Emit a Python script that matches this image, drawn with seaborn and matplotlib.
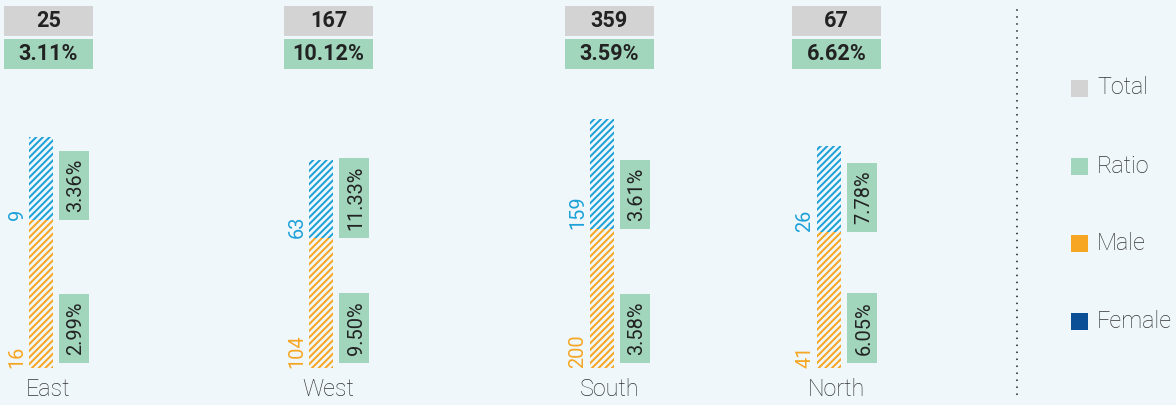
import matplotlib
matplotlib.use("Agg")
import matplotlib.pyplot as plt
import matplotlib.transforms as mtransforms
from matplotlib.patches import Rectangle
from matplotlib.lines import Line2D
import seaborn as sns

# ---- data -------------------------------------------------------------
regions = ["East", "West", "South", "North"]
male = [16, 104, 200, 41]
female = [9, 63, 159, 26]
total = [25, 167, 359, 67]
total_ratio = ["3.11%", "10.12%", "3.59%", "6.62%"]
male_ratio = ["2.99%", "9.50%", "3.58%", "6.05%"]
female_ratio = ["3.36%", "11.33%", "3.61%", "7.78%"]
legend_labels = ["Total", "Ratio", "Male", "Female"]

# ---- style ------------------------------------------------------------
BG = "#F0F7FA"
GREY = "#D3D3D3"
GREEN = "#A1D5BC"
ORANGE = "#F6A623"
BLUE = "#1DA1D8"
NAVY = "#0B4F96"
INK = "#222222"
TEXT = "#333333"

W, H, DPI = 1176, 405, 120

sns.set_theme(style="white", rc={"axes.facecolor": BG, "figure.facecolor": BG})
plt.rcParams["font.family"] = ["Roboto", "DejaVu Sans"]
plt.rcParams["hatch.linewidth"] = 1.2

fig = plt.figure(figsize=(W / DPI, H / DPI), dpi=DPI)
fig.patch.set_facecolor(BG)


def fx(px):
    return px / W


def fy(py):
    # py is measured downward from the top edge of the figure
    return 1 - py / H


# panel layout (pixels)
panel_left = [4, 284, 565, 792]
panel_w = 89
bar_px = [231, 208, 249, 222]      # drawn height of each stacked bar
base_py, top_py = 368, 100
bar_center, bar_width = 0.416, 0.27  # fraction of panel width
count_x = 0.124                      # count labels, fraction of panel width
ratio_x = 0.787                      # ratio tags, fraction of panel width
TAG_W, TAG_PAD = 30, 8               # ratio tag width / end padding (px)

pending_tags = []  # (text artist, panel axes) -> boxes added after layout

for i, region in enumerate(regions):
    left = panel_left[i]
    ax = fig.add_axes([fx(left), fy(base_py), panel_w / W, (base_py - top_py) / H])

    sns.barplot(x=[region], y=[male[i]], width=bar_width, color=ORANGE,
                saturation=1, errorbar=None, ax=ax)
    sns.barplot(x=[region], y=[female[i]], width=bar_width, color=BLUE,
                saturation=1, errorbar=None, ax=ax)
    m_bar, f_bar = ax.patches[0], ax.patches[1]
    f_bar.set_y(male[i])
    for bar, col in ((m_bar, ORANGE), (f_bar, BLUE)):
        bar.set_facecolor("none")
        bar.set_edgecolor(col)
        bar.set_linewidth(0)
        bar.set_hatch("//////")

    ax.set_xlim(-bar_center, 1 - bar_center)
    ax.set_ylim(0, total[i] * (base_py - top_py) / bar_px[i])
    ax.set_axis_off()

    blend = mtransforms.blended_transform_factory(ax.transAxes, ax.transData)

    # counts beside each segment
    ax.text(count_x, 0, str(male[i]), transform=blend, rotation=90,
            rotation_mode="anchor", ha="left", va="center_baseline",
            fontsize=12, color=ORANGE)
    ax.text(count_x, male[i], str(female[i]), transform=blend, rotation=90,
            rotation_mode="anchor", ha="left", va="center_baseline",
            fontsize=12, color=BLUE)

    # ratio tags: one at the foot of the bar, one at the top of the male segment
    lower = mtransforms.offset_copy(blend, fig=fig, x=0,
                                    y=(5 + TAG_PAD) * 72 / DPI, units="points")
    upper = mtransforms.offset_copy(blend, fig=fig, x=0,
                                    y=TAG_PAD * 72 / DPI, units="points")
    t1 = ax.text(ratio_x, 0, male_ratio[i], transform=lower, rotation=90,
                 rotation_mode="anchor", ha="left", va="center_baseline",
                 fontsize=12, color=INK, zorder=5)
    t2 = ax.text(ratio_x, male[i], female_ratio[i], transform=upper, rotation=90,
                 rotation_mode="anchor", ha="left", va="center_baseline",
                 fontsize=12, color=INK, zorder=5)
    pending_tags.append((t1, ax))
    pending_tags.append((t2, ax))

    # header boxes with total and overall ratio
    cx = left + panel_w / 2
    fig.add_artist(Rectangle((fx(left), fy(36)), panel_w / W, 30 / H,
                             transform=fig.transFigure, facecolor=GREY,
                             edgecolor="none", zorder=-1))
    fig.add_artist(Rectangle((fx(left), fy(69)), panel_w / W, 30 / H,
                             transform=fig.transFigure, facecolor=GREEN,
                             edgecolor="none", zorder=-1))
    fig.text(fx(cx), fy(21), str(total[i]), ha="center", va="center",
             fontsize=13, fontweight="bold", color=INK)
    fig.text(fx(cx), fy(54), total_ratio[i], ha="center", va="center",
             fontsize=13, fontweight="bold", color=INK)

    # region name
    fig.text(fx(cx), fy(390), region, ha="center", va="center",
             fontsize=14, fontweight="light", color=TEXT)

# size the ratio tags to their text
fig.canvas.draw()
renderer = fig.canvas.get_renderer()
to_fig = fig.transFigure.inverted()
for txt, ax in pending_tags:
    bb = txt.get_window_extent(renderer)
    xc = ax.transAxes.transform((ratio_x, 0))[0]
    (x0, y0) = to_fig.transform((xc - TAG_W / 2, bb.y0 - TAG_PAD))
    (x1, y1) = to_fig.transform((xc + TAG_W / 2, bb.y1 + TAG_PAD))
    fig.add_artist(Rectangle((x0, y0), x1 - x0, y1 - y0,
                             transform=fig.transFigure, facecolor=GREEN,
                             edgecolor="none", zorder=-1))

# dotted separator
fig.add_artist(Line2D([fx(1017), fx(1017)], [fy(10), fy(397)],
                      transform=fig.transFigure, color=INK, linewidth=1.1,
                      linestyle=(0, (0.01, 3.8)), dash_capstyle="round"))

# legend
legend_colors = [GREY, GREEN, ORANGE, NAVY]
legend_py = [88, 166, 243, 321]
for lab, col, py in zip(legend_labels, legend_colors, legend_py):
    fig.add_artist(Rectangle((fx(1071), fy(py + 8.5)), 17 / W, 17 / H,
                             transform=fig.transFigure, facecolor=col,
                             edgecolor="none"))
    fig.text(fx(1097), fy(py), lab, ha="left", va="center",
             fontsize=14, fontweight="light", color=TEXT)

fig.savefig("out.png", dpi=DPI, facecolor=BG)
